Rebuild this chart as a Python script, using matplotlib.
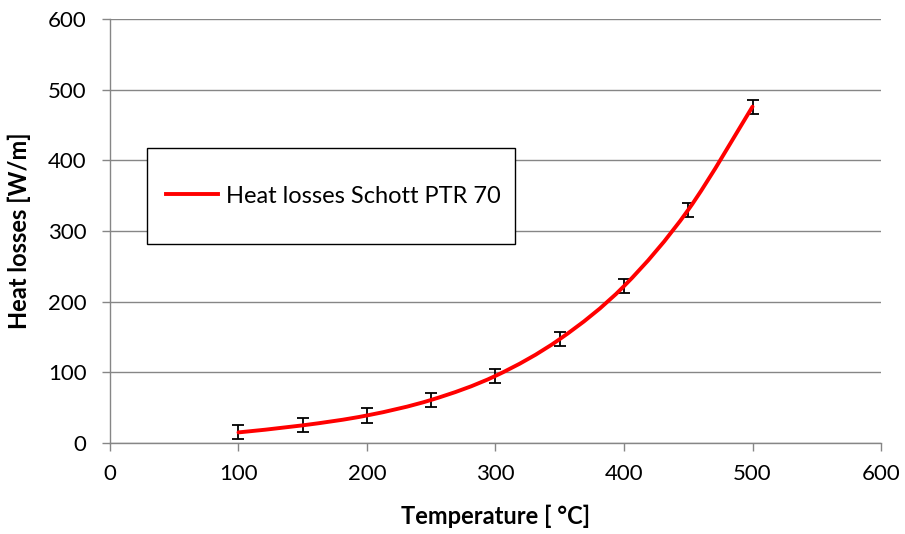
#!/usr/bin/env python3
"""Heat losses of the Schott PTR 70 receiver vs temperature."""

import matplotlib
matplotlib.use("Agg")
import matplotlib.pyplot as plt
from matplotlib.patches import Rectangle, PathPatch
from matplotlib.path import Path

plt.rcParams['font.family'] = ['Lato', 'DejaVu Sans']

temperature = [100, 150, 200, 250, 300, 350, 400, 450, 500]
heat_loss = [15, 25, 39, 61, 95, 147, 222, 330, 476]
heat_loss_err = [10, 10, 10, 10, 10, 10, 10, 10, 10]
x_ticks = [0, 100, 200, 300, 400, 500, 600]
y_ticks = [0, 100, 200, 300, 400, 500, 600]
series_label = 'Heat losses Schott PTR 70'

GRAY = '#868686'
RED = '#ff0000'


def smooth_path(xs, ys):
    # Excel-style "smoothed line": cubic Bezier segments through the data points
    pts = list(zip(xs, ys))
    verts = [pts[0]]
    codes = [Path.MOVETO]
    n = len(pts)
    for i in range(n - 1):
        p0 = pts[max(i - 1, 0)]
        p1 = pts[i]
        p2 = pts[i + 1]
        p3 = pts[min(i + 2, n - 1)]
        c1 = (p1[0] + (p2[0] - p0[0]) / 6, p1[1] + (p2[1] - p0[1]) / 6)
        c2 = (p2[0] - (p3[0] - p1[0]) / 6, p2[1] - (p3[1] - p1[1]) / 6)
        verts += [c1, c2, p2]
        codes += [Path.CURVE4] * 3
    return Path(verts, codes)


fig = plt.figure(figsize=(9.05, 5.34), dpi=100)
ax = fig.add_axes([0.1215, 0.1704, 0.852, 0.794])

ax.errorbar(temperature, heat_loss, yerr=heat_loss_err, fmt='none',
            ecolor='black', elinewidth=1.3, capsize=4.5, capthick=1.3, zorder=3)
ax.add_patch(PathPatch(smooth_path(temperature, heat_loss), facecolor='none',
                       edgecolor=RED, linewidth=2.8, capstyle='round', zorder=4))
ax.plot([], [], color=RED, linewidth=2.8, label=series_label)

ax.set_xlim(0, 600)
ax.set_ylim(0, 600)
ax.set_xticks(x_ticks)
ax.set_yticks(y_ticks)
ax.tick_params(axis='both', colors=GRAY, labelcolor='black', labelsize=16,
               length=6, width=1.0, direction='out')
ax.tick_params(axis='y', pad=11)
ax.tick_params(axis='x', pad=9)

ax.grid(True, axis='y', color=GRAY, linewidth=1.0)
ax.set_axisbelow(True)
for side in ['top', 'right']:
    ax.spines[side].set_visible(False)
for side in ['left', 'bottom']:
    ax.spines[side].set_color(GRAY)
    ax.spines[side].set_linewidth(1.0)

ax.set_xlabel('Temperature [ °C]', fontsize=17, fontweight='bold')
ax.set_ylabel('Heat losses [W/m]', fontsize=17, fontweight='bold')
ax.xaxis.set_label_coords(0.5, -0.145)
ax.yaxis.set_label_coords(-0.102, 0.5)

# legend box
box = Rectangle((0.048, 0.469), 0.477, 0.227, transform=ax.transAxes,
                facecolor='white', edgecolor='black', linewidth=1.0, zorder=5)
ax.add_patch(box)
ax.legend(loc='center left', bbox_to_anchor=(0.045, 0.5825), frameon=False,
          fontsize=17, handlelength=2.2, handletextpad=0.35).set_zorder(6)

plt.savefig('out.png', dpi=100)
